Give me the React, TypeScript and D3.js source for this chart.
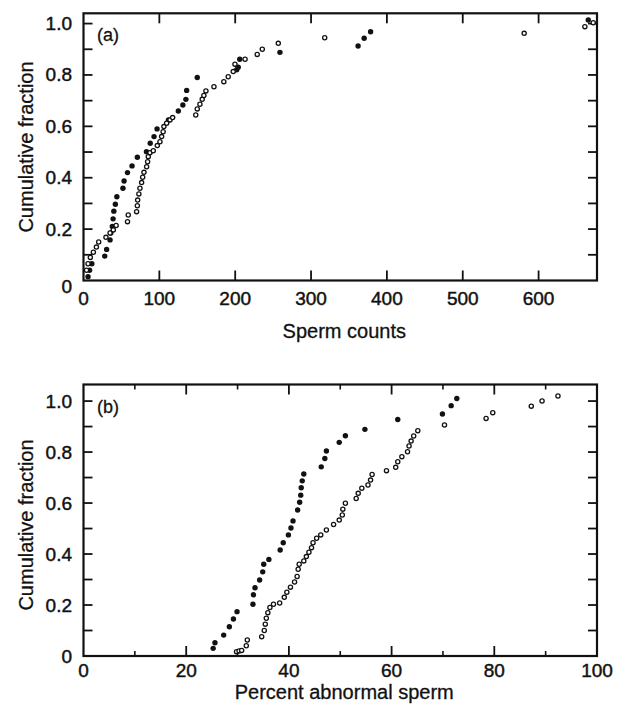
import React from 'react';
import * as d3 from 'd3';

// Panel (a): sperm counts
const aFilledX = [6, 8, 11, 28, 30.5, 35, 36, 38, 39, 40, 42, 44, 52, 53.5, 58, 64, 71, 83, 88, 93, 97, 112, 125, 131, 135, 136, 150, 202, 204, 206, 259, 362, 370, 378.5, 665.5];
const aFilledY = [0.015, 0.04, 0.065, 0.095, 0.121, 0.158, 0.185, 0.21, 0.24, 0.27, 0.297, 0.326, 0.359, 0.387, 0.42, 0.446, 0.48, 0.501, 0.534, 0.56, 0.59, 0.625, 0.66, 0.683, 0.705, 0.74, 0.79, 0.82, 0.83, 0.861, 0.888, 0.913, 0.943, 0.968, 1.014];
const aOpenX = [4, 6, 9, 13, 17, 20, 29.6, 35, 39.3, 43, 58, 59, 70, 71, 71.4, 73, 74.4, 76.6, 78, 79.7, 83.2, 84.5, 85.4, 87.6, 92, 97.3, 100.8, 103, 105, 106, 109.6, 114, 117.5, 148, 150, 153.5, 156.5, 158.7, 161.4, 172, 185, 190.8, 197.4, 199.7, 213, 229, 235.7, 256.8, 318, 581, 661, 672];
const aOpenY = [0.04, 0.065, 0.09, 0.11, 0.13, 0.15, 0.168, 0.185, 0.197, 0.214, 0.229, 0.255, 0.268, 0.291, 0.313, 0.337, 0.359, 0.381, 0.402, 0.421, 0.443, 0.462, 0.482, 0.497, 0.505, 0.525, 0.54, 0.56, 0.579, 0.599, 0.612, 0.625, 0.634, 0.644, 0.668, 0.686, 0.705, 0.72, 0.738, 0.754, 0.774, 0.793, 0.813, 0.842, 0.861, 0.88, 0.9, 0.923, 0.945, 0.962, 0.988, 1.003];

// Panel (b): percent abnormal sperm
const bFilledX = [25.25, 25.6, 27.3, 28.4, 29.2, 29.9, 33, 33.1, 33.4, 34.3, 34.9, 35.1, 36.1, 38.3, 38.9, 39.9, 40.4, 40.8, 41.7, 42.1, 42.3, 42.4, 42.6, 42.9, 46.3, 47, 47.3, 49.8, 51, 54.8, 61.2, 69.9, 71.6, 72.7];
const bFilledY = [0.03, 0.052, 0.082, 0.115, 0.145, 0.174, 0.203, 0.24, 0.268, 0.298, 0.33, 0.36, 0.379, 0.416, 0.444, 0.475, 0.502, 0.53, 0.573, 0.603, 0.631, 0.66, 0.687, 0.714, 0.742, 0.775, 0.804, 0.838, 0.864, 0.889, 0.928, 0.949, 0.982, 1.01];
const bOpenX = [29.8, 30.3, 30.8, 31.7, 31.9, 34.7, 35.2, 35.4, 35.6, 35.9, 36.3, 37, 38.2, 39.1, 39.6, 40.3, 41.1, 41.6, 41.8, 42, 42.9, 43.4, 43.9, 44.4, 44.7, 45.4, 46.2, 47.3, 48.7, 49.8, 50.4, 50.5, 51, 53.1, 53.5, 54.2, 55.4, 55.9, 56.2, 59, 60.8, 61.2, 62, 63.1, 63.4, 63.8, 64.3, 65.1, 70.3, 78.4, 79.7, 87.2, 89.3, 92.4];
const bOpenY = [0.017, 0.02, 0.022, 0.04, 0.063, 0.076, 0.1, 0.125, 0.148, 0.17, 0.19, 0.203, 0.208, 0.23, 0.25, 0.27, 0.29, 0.312, 0.34, 0.36, 0.373, 0.39, 0.407, 0.425, 0.444, 0.462, 0.475, 0.494, 0.516, 0.533, 0.553, 0.576, 0.599, 0.618, 0.638, 0.658, 0.671, 0.69, 0.712, 0.727, 0.74, 0.762, 0.782, 0.801, 0.824, 0.843, 0.863, 0.884, 0.906, 0.932, 0.954, 0.98, 1.0, 1.02];

// Ticks
const fractionTicks = [0, 0.1, 0.2, 0.3, 0.4, 0.5, 0.6, 0.7, 0.8, 0.9, 1.0];
const fractionLabelValues = [0, 0.2, 0.4, 0.6, 0.8, 1.0];
const fractionLabels = ['0', '0.2', '0.4', '0.6', '0.8', '1.0'];
const countTicks = [100, 200, 300, 400, 500, 600];
const countLabelValues = [0, 100, 200, 300, 400, 500, 600];
const countLabels = ['0', '100', '200', '300', '400', '500', '600'];
const percentMajorTicks = [20, 40, 60, 80];
const percentMinorTicks = [10, 30, 50, 70, 90];
const percentLabelValues = [0, 20, 40, 60, 80, 100];
const percentLabels = ['0', '20', '40', '60', '80', '100'];

const FONT = '"Liberation Sans", Arial, Helvetica, sans-serif';
const LEFT = 83.5;
const RIGHT = 597;
const INK = '#111';

type PanelProps = {
  top: number;
  bottom: number;
  xMax: number;
  yMax: number;
  filledX: number[];
  filledY: number[];
  openX: number[];
  openY: number[];
  majorX: number[];
  minorX: number[];
  xLabelValues: number[];
  xLabels: string[];
  letter: string;
  xTitle: string;
  tickLabelBaseline: number;
  xTitleBaseline: number;
  yTitleCenter: number;
  zeroLabelShift: number;
};

function Panel(p: PanelProps) {
  const x = d3.scaleLinear().domain([0, p.xMax]).range([LEFT, RIGHT]);
  const y = d3.scaleLinear().domain([0, p.yMax]).range([p.bottom, p.top]);
  const majorLen = 10;
  const minorLen = 5;
  const yTickLen = 9;
  const textStyle = { stroke: INK, strokeWidth: 0.45 } as const;
  return (
    <g fontFamily={FONT} fill={INK}>
      <rect x={LEFT} y={p.top} width={RIGHT - LEFT} height={p.bottom - p.top} fill="none" stroke={INK} strokeWidth={2.2} />
      {p.majorX.map((v) => (
        <g key={'mx' + v}>
          <line x1={x(v)} x2={x(v)} y1={p.bottom} y2={p.bottom - majorLen} stroke={INK} strokeWidth={1.8} />
          <line x1={x(v)} x2={x(v)} y1={p.top} y2={p.top + majorLen} stroke={INK} strokeWidth={1.8} />
        </g>
      ))}
      {p.minorX.map((v) => (
        <g key={'nx' + v}>
          <line x1={x(v)} x2={x(v)} y1={p.bottom} y2={p.bottom - minorLen} stroke={INK} strokeWidth={1.6} />
          <line x1={x(v)} x2={x(v)} y1={p.top} y2={p.top + minorLen} stroke={INK} strokeWidth={1.6} />
        </g>
      ))}
      {fractionTicks.slice(1).map((v) => (
        <g key={'yt' + v}>
          <line x1={LEFT} x2={LEFT + yTickLen} y1={y(v)} y2={y(v)} stroke={INK} strokeWidth={1.8} />
          <line x1={RIGHT} x2={RIGHT - yTickLen} y1={y(v)} y2={y(v)} stroke={INK} strokeWidth={1.8} />
        </g>
      ))}
      {fractionLabelValues.map((v, i) => (
        <text key={'yl' + v} x={72} y={y(v) + (v === 0 ? p.zeroLabelShift : 0)} textAnchor="end" dominantBaseline="central" fontSize={19} style={textStyle}>
          {fractionLabels[i]}
        </text>
      ))}
      {p.xLabelValues.map((v, i) => (
        <text key={'xl' + v} x={x(v)} y={p.tickLabelBaseline} textAnchor="middle" fontSize={19} style={textStyle}>
          {p.xLabels[i]}
        </text>
      ))}
      <text x={(LEFT + RIGHT) / 2 + 4} y={p.xTitleBaseline} textAnchor="middle" fontSize={20} style={{ stroke: INK, strokeWidth: 0.3 }}>
        {p.xTitle}
      </text>
      <text transform={`translate(33,${p.yTitleCenter}) rotate(-90)`} textAnchor="middle" fontSize={20} style={{ stroke: INK, strokeWidth: 0.3 }}>
        Cumulative fraction
      </text>
      <text x={97} y={p.top + 28} fontSize={18} style={{ stroke: INK, strokeWidth: 0.3 }}>{p.letter}</text>
      {p.filledX.map((v, i) => (
        <circle key={'f' + i} cx={x(v)} cy={y(p.filledY[i])} r={2.7} fill={INK} />
      ))}
      {p.openX.map((v, i) => (
        <circle key={'o' + i} cx={x(v)} cy={y(p.openY[i])} r={2.1} fill="#fff" stroke={INK} strokeWidth={1.3} />
      ))}
    </g>
  );
}

export default function App() {
  return (
    <svg width={617} height={722} style={{ position: 'absolute', left: 0, top: 0, background: '#fff' }}>
      <rect x={0} y={0} width={617} height={722} fill="#fff" />
      <Panel
        top={13.3}
        bottom={280.5}
        xMax={677}
        yMax={1.04}
        filledX={aFilledX}
        filledY={aFilledY}
        openX={aOpenX}
        openY={aOpenY}
        majorX={countTicks}
        minorX={[]}
        xLabelValues={countLabelValues}
        xLabels={countLabels}
        letter="(a)"
        xTitle="Sperm counts"
        tickLabelBaseline={305}
        xTitleBaseline={338}
        yTitleCenter={147}
        zeroLabelShift={6}
      />
      <Panel
        top={384.5}
        bottom={656}
        xMax={100}
        yMax={1.065}
        filledX={bFilledX}
        filledY={bFilledY}
        openX={bOpenX}
        openY={bOpenY}
        majorX={percentMajorTicks}
        minorX={percentMinorTicks}
        xLabelValues={percentLabelValues}
        xLabels={percentLabels}
        letter="(b)"
        xTitle="Percent abnormal sperm"
        tickLabelBaseline={677}
        xTitleBaseline={699}
        yTitleCenter={525}
        zeroLabelShift={0}
      />
    </svg>
  );
}
